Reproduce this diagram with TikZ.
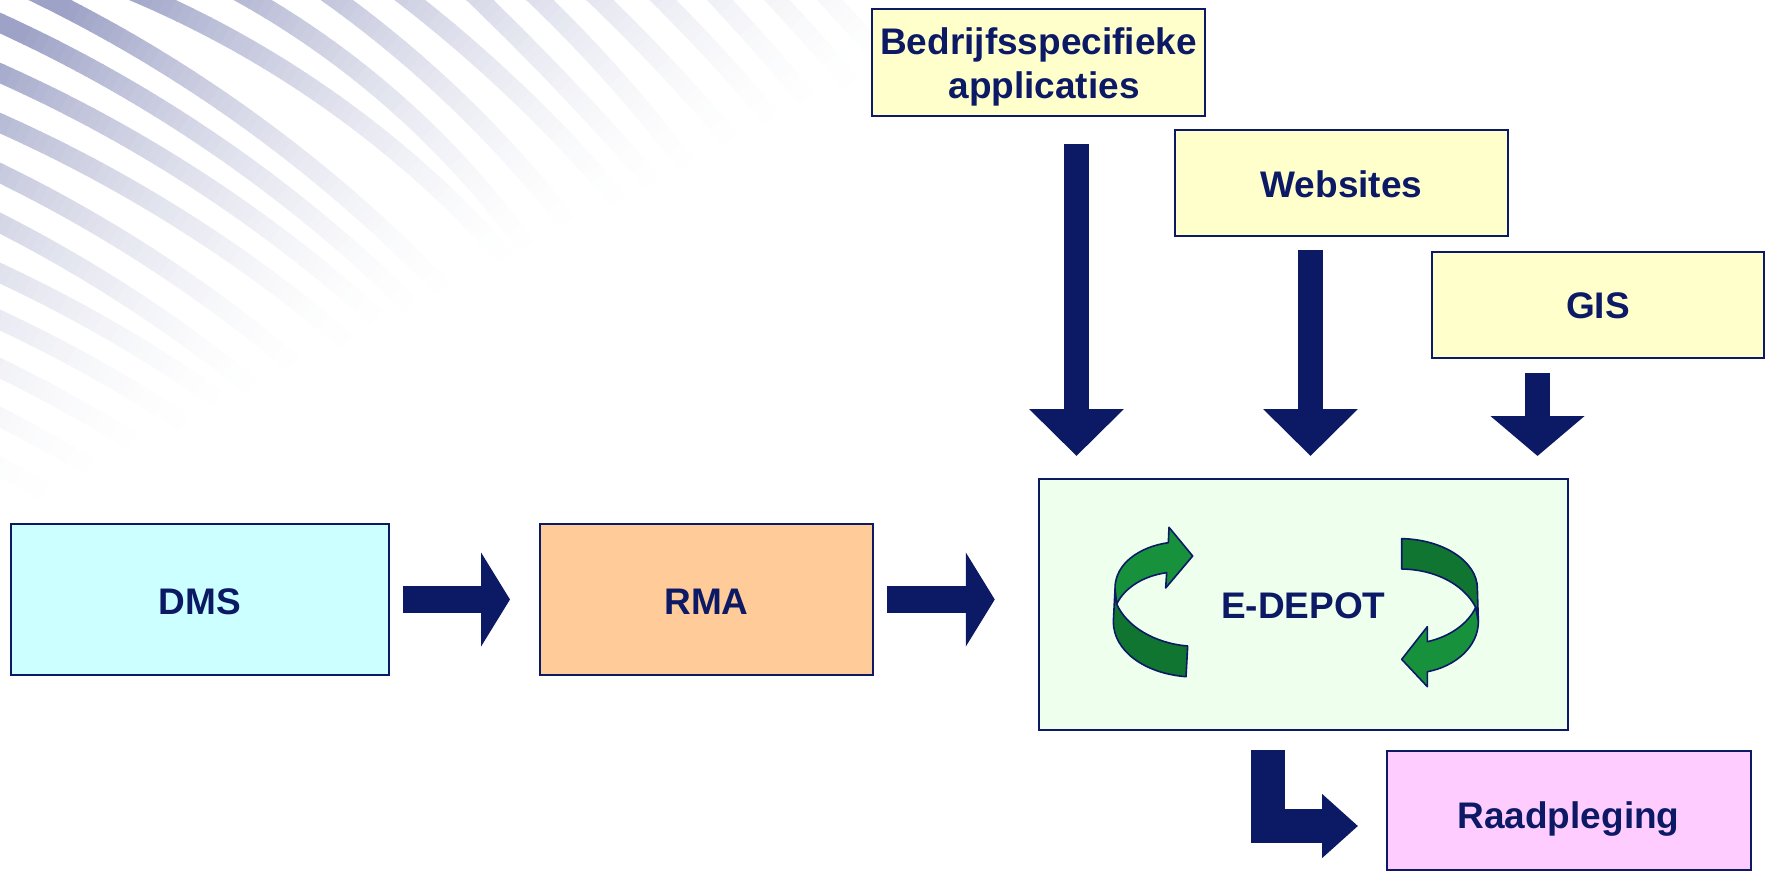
\documentclass[tikz,border=0pt]{standalone}
\usepackage{fontspec}
\setmainfont{Liberation Sans}
\usetikzlibrary{arrows.meta}
\definecolor{navy}{HTML}{0C1A66}
\definecolor{stripecol}{HTML}{9DA2C6}
\definecolor{gdark}{HTML}{107530}
\definecolor{glight}{HTML}{18913C}
\definecolor{fillyellow}{HTML}{FFFFCC}
\definecolor{fillcyan}{HTML}{CCFFFF}
\definecolor{fillorange}{HTML}{FFCC99}
\definecolor{fillgreen}{HTML}{EEFFEE}
\definecolor{fillpink}{HTML}{FFCCFF}
\tikzset{
  boxnode/.style={draw=navy,line width=1pt,inner sep=0pt,outer sep=0pt,align=center,text=navy,font=\bfseries\fontsize{18.5}{22}\selectfont},
  oneline/.style={text height=#1,text depth=0pt},
  blockdown/.style={draw=navy,line width=12.5pt,-{Triangle[length=23.5pt,width=46pt,fill=navy]}},
  blockshort/.style={draw=navy,line width=12.5pt,-{Triangle[length=20pt,width=46pt,fill=navy]}},
  blockright/.style={draw=navy,line width=13.5pt,-{Triangle[length=14.5pt,width=46.5pt,fill=navy]}},
  blockelbow/.style={draw=navy,line width=17pt,miter limit=10,-{Triangle[length=18pt,width=31pt,fill=navy]}},
  curvedark/.style={draw=navy,fill=gdark,line width=.8pt,line join=round},
  curvelight/.style={draw=navy,fill=glight,line width=.8pt,line join=round},
}
\begin{document}
\begin{tikzpicture}[x=.5pt,y=-.5pt]
\useasboundingbox (0,0) rectangle (1770,871);
% background stripes
\begin{scope}
\clip (0,0) rectangle (1770,871);
\foreach \xo/\yo/\th/\kp in {
  0/23/24.5/.04, 0/73/24/.04, 0/123/24/.04, 0/173/26/.04, 0/223/27/.04, 0/273/25/.04, 0/320/25/.04, 0/368/26/.04, 0/417/27/.04, 0/467/28/.04,
  50/0/26.5/.04, 153/0/24/.055, 253/0/30/.065, 337/0/36/.05, 410/0/38/.04, 480/0/44/.02, 540/0/44/.04, 600/0/44/.03, 663/0/45/.03, 720/0/47/.025, 777/0/47/.025, 830/0/47/.025}{
  \pgfmathsetmacro\rr{57.2958/\kp}
  \foreach \s in {-40,-30,...,800}{
    \pgfmathsetmacro\ax{\xo+\rr*(sin(\th+\kp*\s)-sin(\th))}
    \pgfmathsetmacro\ay{\yo+\rr*(cos(\th)-cos(\th+\kp*\s))}
    \pgfmathsetmacro\bx{\xo+\rr*(sin(\th+\kp*(\s+11))-sin(\th))}
    \pgfmathsetmacro\by{\yo+\rr*(cos(\th)-cos(\th+\kp*(\s+11)))}
    \pgfmathsetmacro\ii{max(0.001,min(1,1-\ax/1040-\ay/530))}
    \pgfmathsetmacro\pc{min(100,115*(\ii^1.8))}
    \ifdim\pc pt>0.4pt
      \draw[line width=9.5pt,stripecol!\pc!white] (\ax,\ay) -- (\bx,\by);
    \fi
  }
}
\end{scope}
% boxes
\node[boxnode,fill=fillyellow,minimum width=166.5pt,minimum height=53.5pt] (bed) at (1038.5,62.5) {\rule{0pt}{17.9pt}Bedrijfsspecifieke\\\hspace*{5.6pt}applicaties};
\node[boxnode,oneline=14.2pt,fill=fillyellow,minimum width=166.5pt,minimum height=53pt] (web) at (1341.5,183) {Websites};
\node[boxnode,oneline=13.2pt,fill=fillyellow,minimum width=166pt,minimum height=53pt] (gis) at (1598,305) {GIS};
\node[boxnode,oneline=14.7pt,fill=fillcyan,minimum width=189pt,minimum height=75.5pt] (dms) at (200,599.5) {DMS};
\node[boxnode,oneline=14.7pt,fill=fillorange,minimum width=166.5pt,minimum height=75.5pt] (rma) at (706.5,599.5) {RMA};
\node[boxnode,oneline=14.2pt,fill=fillgreen,minimum width=264.5pt,minimum height=125.5pt] (edepot) at (1303.25,604) {E-DEPOT};
\node[boxnode,oneline=17.7pt,fill=fillpink,minimum width=182pt,minimum height=59.5pt] (raad) at (1568.5,810.5) {Raadpleging};
% vertical arrows
\coordinate (xa) at (1076.5,0);
\coordinate (xb) at (1310.5,0);
\coordinate (xc) at (1537.5,0);
\draw[blockdown,shorten <=14pt,shorten >=11.25pt] (bed.south -| xa) -- (edepot.north -| xa);
\draw[blockdown,shorten <=7pt,shorten >=11.25pt] (web.south -| xb) -- (edepot.north -| xb);
\draw[blockshort,shorten <=7.25pt,shorten >=11.25pt] (gis.south -| xc) -- (edepot.north -| xc);
% horizontal arrows
\draw[blockright,shorten <=7pt,shorten >=15pt] (dms.east) -- (rma.west);
\draw[blockright,shorten <=7pt,shorten >=22pt] (rma.east) -- (edepot.west |- rma.east);
% elbow arrow
\coordinate (xd) at (1267.5,0);
\coordinate (ye) at (0,826);
\draw[blockelbow,shorten <=10.25pt,shorten >=14.25pt] (edepot.south -| xd) |- (raad.west |- ye);
% curved green arrows
\begin{scope}[shift={(1080,500)},x=.16667pt,y=-.16667pt]
\draw[curvedark] (105,268) -- (100,365) .. controls (100,450) and (190,520) .. (318,530) -- (323,438) .. controls (225,430) and (140,380) .. (110,312) -- cycle;
\draw[curvelight] (105,265) .. controls (105,190) and (180,140) .. (265,128) -- (267,82) -- (338,168) -- (257,264) -- (260,218) .. controls (190,228) and (135,262) .. (110,312) -- cycle;
\draw[curvedark] (965,116) .. controls (1090,118) and (1192,185) .. (1192,265) -- (1195,365) -- (1187,322) .. controls (1150,250) and (1060,208) .. (965,207) -- cycle;
\draw[curvelight] (1195,365) .. controls (1195,440) and (1125,500) .. (1042,515) -- (1042,560) -- (965,478) -- (1042,380) -- (1042,425) .. controls (1110,410) and (1165,370) .. (1187,322) -- cycle;
\end{scope}
\end{tikzpicture}
\end{document}
